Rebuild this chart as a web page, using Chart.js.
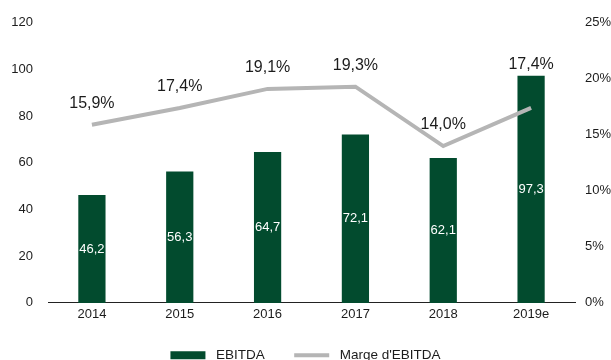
<!DOCTYPE html>
<html lang="fr">
<head>
<meta charset="utf-8">
<title>EBITDA et marge d'EBITDA</title>
<script src="https://cdn.jsdelivr.net/npm/chart.js@4.4.1/dist/chart.umd.min.js"></script>
<style>
  html, body { margin: 0; padding: 0; background: #fff; overflow: hidden; }
  #cadre { position: relative; width: 611px; height: 372px; }
</style>
</head>
<body>
<div id="cadre"><canvas id="graphique"></canvas></div>
<script>
// Données du graphique
const annees = ['2014', '2015', '2016', '2017', '2018', '2019e'];
const ebitda = [46.2, 56.3, 64.7, 72.1, 62.1, 97.3];
const margeEbitda = [15.9, 17.4, 19.1, 19.3, 14.0, 17.4];
const nomsSeries = ['EBITDA', "Marge d'EBITDA"];

const VERT = '#024b2e';
const GRIS = '#b5b5b5';
const TEXTE = '#1c1c1c';
const POLICE = "'Liberation Sans', Arial, sans-serif";

// Format français : virgule décimale
function formatFr(v) {
  return v.toFixed(1).replace('.', ',');
}

// Plugin pour écrire les valeurs sur les barres et au-dessus de la courbe
const etiquettes = {
  id: 'etiquettes',
  afterDatasetsDraw(chart) {
    const ctx = chart.ctx;
    const barres = chart.getDatasetMeta(0).data;
    const points = chart.getDatasetMeta(1).data;
    ctx.save();
    ctx.textAlign = 'center';
    ctx.textBaseline = 'middle';

    // valeurs d'EBITDA en blanc, au milieu de chaque barre
    ctx.font = '13px ' + POLICE;
    ctx.fillStyle = '#ffffff';
    barres.forEach((b, i) => {
      ctx.fillText(formatFr(ebitda[i]), b.x, (b.y + b.base) / 2);
    });

    // marges en pourcentage au-dessus de la courbe
    ctx.font = '16px ' + POLICE;
    ctx.fillStyle = TEXTE;
    points.forEach((p, i) => {
      const y = Math.min(p.y - 21, barres[i].y - 11);
      ctx.fillText(formatFr(margeEbitda[i]) + '%', p.x, y);
    });
    ctx.restore();
  }
};

const ctx = document.getElementById('graphique').getContext('2d');

new Chart(ctx, {
  data: {
    labels: annees,
    datasets: [
      {
        type: 'bar',
        label: nomsSeries[0],
        data: ebitda,
        backgroundColor: VERT,
        barPercentage: 0.31,
        categoryPercentage: 1,
        yAxisID: 'y',
        order: 1
      },
      {
        type: 'line',
        label: nomsSeries[1],
        data: margeEbitda,
        borderColor: GRIS,
        backgroundColor: GRIS,
        borderWidth: 4,
        pointRadius: 0,
        tension: 0,
        yAxisID: 'y1',
        order: 0
      }
    ]
  },
  options: {
    responsive: true,
    maintainAspectRatio: false,
    animation: false,
    layout: { padding: { top: 13, left: 0, right: 0, bottom: 0 } },
    scales: {
      x: {
        grid: { display: false, drawTicks: false },
        border: { display: true, color: '#222', width: 1 },
        ticks: { color: TEXTE, font: { family: POLICE, size: 13 }, padding: 4 }
      },
      y: {
        position: 'left',
        min: 0,
        max: 120,
        grid: { display: false, drawTicks: false },
        border: { display: false },
        ticks: { stepSize: 20, color: TEXTE, font: { family: POLICE, size: 13 }, padding: 15 },
        afterFit(s) { s.width = 48; }
      },
      y1: {
        position: 'right',
        min: 0,
        max: 25,
        grid: { display: false, drawTicks: false },
        border: { display: false },
        ticks: {
          stepSize: 5,
          color: TEXTE,
          font: { family: POLICE, size: 13 },
          padding: 10,
          callback: v => v + '%'
        },
        afterFit(s) { s.width = 36; }
      }
    },
    plugins: {
      tooltip: { enabled: false },
      legend: {
        position: 'bottom',
        labels: {
          color: TEXTE,
          font: { family: POLICE, size: 13.5 },
          usePointStyle: true,
          pointStyleWidth: 35,
          boxHeight: 8,
          padding: 22,
          // espaces autour du texte pour aérer les entrées
          generateLabels: chart => chart.data.datasets.map((ds, i) => ({
            text: ' ' + ds.label + (i === 0 ? '  ' : ''),
            fillStyle: i === 0 ? VERT : GRIS,
            strokeStyle: i === 0 ? VERT : GRIS,
            lineWidth: i === 0 ? 0 : 4,
            pointStyle: i === 0 ? 'rect' : 'line',
            fontColor: TEXTE,
            hidden: false,
            datasetIndex: i
          }))
        }
      }
    }
  },
  plugins: [etiquettes]
});
</script>
</body>
</html>
